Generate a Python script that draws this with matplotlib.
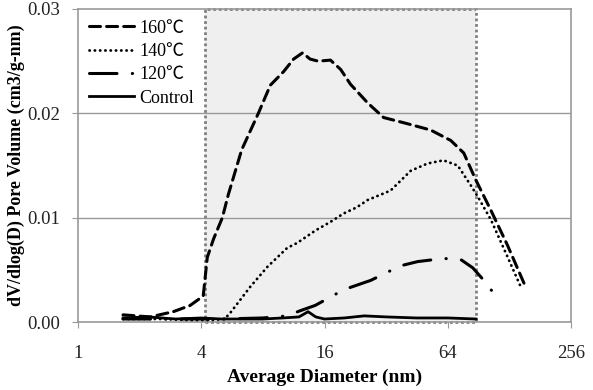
import matplotlib.pyplot as plt
from matplotlib.patches import Rectangle

# pore size distribution
x160 = [1.66, 2.25, 2.92, 3.53, 4.09, 4.28, 4.6, 5.07, 5.42, 6.3, 7.6, 8.7, 10.1, 11.3, 12.5,
        13.6, 14.9, 17.1, 19.2, 21.4, 26, 31.1, 40.8, 52.8, 66.2, 76.6, 87.8, 104, 125, 151]
y160 = [0.0007, 0.0005, 0.001, 0.0016, 0.0025, 0.0062, 0.008, 0.010, 0.0122, 0.0165, 0.020,
        0.0227, 0.024, 0.0252, 0.0258, 0.0252, 0.025, 0.0251, 0.0242, 0.0228, 0.021, 0.0196,
        0.019, 0.0184, 0.0174, 0.0162, 0.0136, 0.0107, 0.0074, 0.0037]

x140 = [1.66, 2.5, 3.5, 4.5, 5.2, 5.55, 6.95, 8.42, 10.5, 11.8, 14.5, 17.1, 19.8, 23, 26,
        33.6, 42.2, 51, 61, 71.6, 82.9, 89.8, 104, 125, 146]
y140 = [0.0003, 0.0003, 0.0002, 0.0002, 0.0003, 0.0009, 0.0034, 0.0053, 0.0071, 0.0076,
        0.0088, 0.0096, 0.0104, 0.011, 0.0117, 0.0126, 0.0145, 0.0152, 0.0155, 0.015,
        0.0131, 0.012, 0.0098, 0.0063, 0.0033]

x120 = [1.66, 3, 5, 8, 10.5, 12.2, 14.4, 17.1, 19.8, 26.9, 31.8, 37.7, 45.6, 61, 74,
        84.8, 96, 116]
y120 = [0.0003, 0.0003, 0.0003, 0.0004, 0.0006, 0.0011, 0.0016, 0.0024, 0.0031, 0.004,
        0.0047, 0.0054, 0.0058, 0.0061, 0.006, 0.0052, 0.004, 0.0019]

xctl = [1.66, 2.2, 3, 4, 5, 6, 8, 10, 12, 13.3, 14.5, 16, 20, 25, 32, 45, 64, 88]
yctl = [0.0004, 0.0005, 0.0003, 0.0004, 0.0003, 0.0003, 0.0003, 0.0004, 0.0005, 0.001,
        0.0005, 0.0003, 0.0004, 0.0006, 0.0005, 0.0004, 0.0004, 0.0003]

xticks = [1, 4, 16, 64, 256]
yticks = [0.0, 0.01, 0.02, 0.03]
span = (4.18, 88)

plt.rcParams['font.family'] = ['Liberation Serif', 'Noto Sans CJK SC']
plt.rcParams['font.size'] = 13

fig = plt.figure(figsize=(5.93, 3.9), dpi=100)
ax = fig.add_axes([0.1315, 0.174, 0.8315, 0.803])

gray = '#999999'
ax.add_patch(Rectangle((span[0], 0), span[1] - span[0], 0.03, facecolor='#efefef',
                       edgecolor='none', zorder=0))
for y in yticks[1:3]:
    ax.axhline(y, color=gray, lw=1, zorder=0.5)
ax.add_patch(Rectangle((span[0], 0), span[1] - span[0], 0.03, facecolor='none',
                       edgecolor='#808080', lw=2, linestyle=(0, (1, 1)), zorder=1,
                       clip_on=False))

k = 'black'
ax.plot(x160, y160, color=k, lw=2.2, linestyle=(0, (3.6, 2)), dash_capstyle='round',
        label='160℃', zorder=3)
ax.plot(x140, y140, color=k, lw=2, linestyle=(0, (0.1, 1.8)), dash_capstyle='round',
        label='140℃', zorder=3)
ax.plot(x120, y120, color=k, lw=2.2, linestyle=(0, (9, 5, 0.1, 5)), dash_capstyle='round',
        label='120℃', zorder=3)
ax.plot(xctl, yctl, color=k, lw=2, label='Control', zorder=3)

ax.set_xscale('log', base=2)
ax.set_xlim(1, 256)
ax.set_ylim(0, 0.03)
ax.set_xticks(xticks)
ax.set_xticklabels([str(t) for t in xticks])
ax.minorticks_off()
ax.set_yticks(yticks)
ax.set_yticklabels(['%.2f' % t for t in yticks])
ax.tick_params(axis='both', colors=gray, labelcolor='#222222', labelsize=13.5, length=4.5)
ax.tick_params(axis='x', pad=12)
ax.tick_params(axis='y', pad=8)
for s in ax.spines.values():
    s.set_color(gray)
    s.set_linewidth(1.2)

ax.set_xlabel('Average Diameter (nm)', fontweight='bold', fontsize=14)
ax.set_ylabel('dV/dlog(D) Pore Volume (cm3/g-nm)', fontweight='bold', fontsize=13)
ax.xaxis.set_label_coords(0.5, -0.148)
ax.yaxis.set_label_coords(-0.108, 0.5)

ax.legend(loc='upper left', frameon=False, fontsize=13, handlelength=2.5,
          handletextpad=0.3, labelspacing=0.35, borderaxespad=0.2, borderpad=0.4)

fig.savefig('out.png', dpi=100)
